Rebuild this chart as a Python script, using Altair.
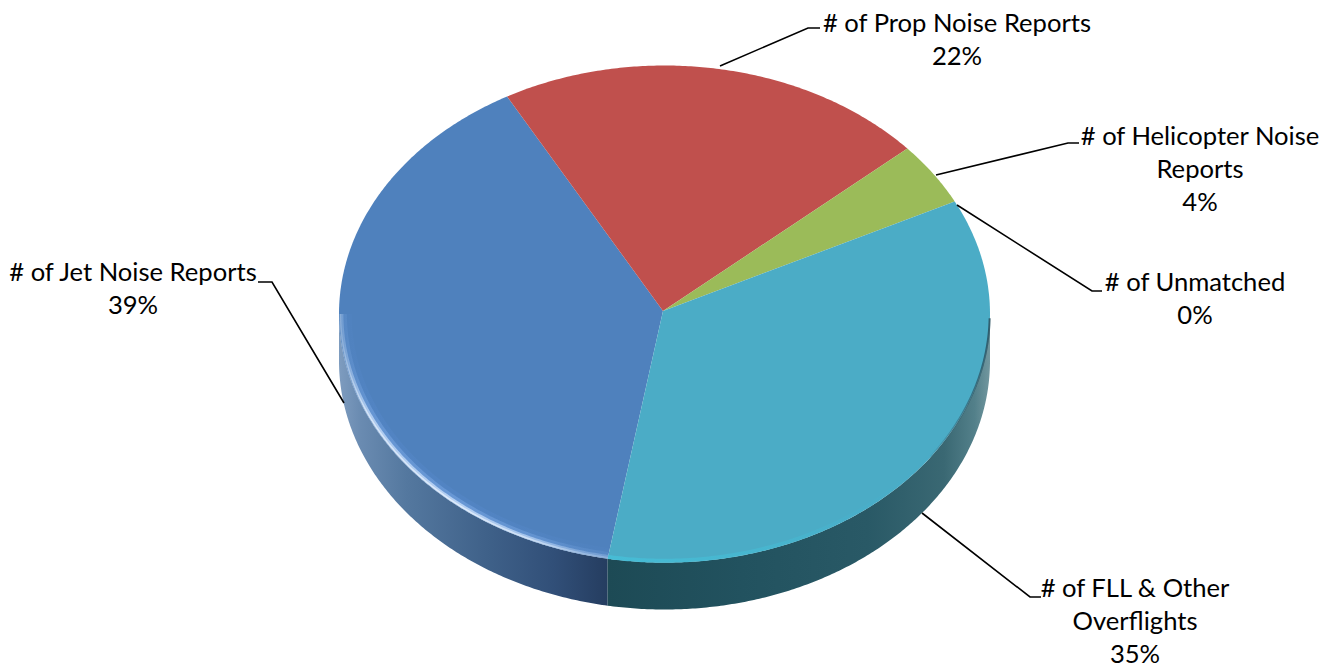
import numpy as np
import altair as alt

# Complaint shares by category, clockwise from the first slice
categories = ["# of Jet Noise Reports", "# of Prop Noise Reports", "# of Helicopter Noise Reports",
              "# of Unmatched", "# of FLL & Other Overflights"]
shares = [39, 22, 4, 0, 35]
fills = ["#4F81BD", "#C0504D", "#9BBB59", "#8064A2", "#4BACC6"]
label_lines = [["# of Jet Noise Reports"], ["# of Prop Noise Reports"],
               ["# of Helicopter Noise", "Reports"], ["# of Unmatched"],
               ["# of FLL & Other", "Overflights"]]

# Layout of the tilted disc
W, H = 1332, 667
CX, CY, RX, RY = 664.5, 314.0, 325.5, 248.5
APEX = (663.0, 311.0)
DEPTH = 47.0
START_DEG = 189.6
PERSPECTIVE = 0.05

label_x = [133, 957, 1200, 1195, 1135]
label_y = [273, 24, 137, 283, 589]
LINE_STEP = 33
leaders = [
    [(344, 403), (272, 282), (258, 282)],
    [(720, 66), (808, 28), (820, 28)],
    [(936, 175), (1068, 143), (1079, 143)],
    [(957, 205), (1092, 291), (1102, 291)],
    [(922, 513), (1030, 597), (1041, 597)],
]

FONT = "Lato"
FONT_SIZE = 25.6


def rim_point(deg, scale=1.0, dy=0.0):
    t = np.radians(deg)
    return [float(CX + scale * RX * np.sin(t)), float(CY + dy + scale * RY * -np.cos(t))]


def arc(a, b, scale=1.0, dy=0.0):
    n = max(2, int(abs(b - a) * 2) + 1)
    return [rim_point(d, scale, dy) for d in np.linspace(a, b, n)]


def feature(geom_type, coords, **props):
    return {"type": "Feature", "geometry": {"type": geom_type, "coordinates": coords}, "properties": props}


def gradient(stops, x1=0.0, x2=1.0):
    return alt.Gradient(gradient="linear", x1=x1, y1=0, x2=x2, y2=0,
                        stops=[alt.GradientStop(offset=o, color=c) for o, c in stops])


def foreshorten(deg):
    # The far side of the disc is narrowed slightly by the viewing perspective
    t = np.radians(deg)
    warped = np.degrees(np.arctan2(np.sin(t) * (1 - PERSPECTIVE * np.cos(t)), np.cos(t)))
    return float(warped % 360)


projection = alt.Projection(type="identity", scale=1, translate=[0, 0])

# Slice angle ranges follow directly from the shares
turns = START_DEG + np.concatenate([[0], np.cumsum(shares)]) * 3.6
edges = [foreshorten(d) for d in turns]
spans = []
for a, b in zip(edges[:-1], edges[1:]):
    spans.append((a, b if b >= a else b + 360))
JET_START, JET_END = spans[0]
FLL_START, FLL_END = spans[4]


def shape(features, **mark):
    return alt.Chart(alt.Data(values=features)).mark_geoshape(**mark).project(**projection.to_dict())


def side_wall(a, b):
    lo, hi = max(a, 90.0), min(b, 270.0)
    upper = arc(lo, hi)
    lower = arc(hi, lo, dy=DEPTH)
    return [feature("Polygon", [upper + lower + [upper[0]]])]


# Side wall of the disc, shaded by horizontal gradients
jet_wall = shape(side_wall(JET_START, JET_END), fill=gradient([
    (0.0, "#7e9cbf"), (0.08, "#6a8bb1"), (0.25, "#54789f"), (0.55, "#3f6189"),
    (0.8, "#314f78"), (1.0, "#253d60")]), strokeWidth=0)
fll_wall = shape(side_wall(FLL_START, FLL_END), fill=gradient([
    (0.0, "#1d4a55"), (0.35, "#22525f"), (0.68, "#295966"), (0.88, "#3a6873"),
    (0.96, "#53808a"), (1.0, "#72979f")]), strokeWidth=0)

# Top face
wedges = []
for (a, b), c, cat in zip(spans, fills, categories):
    ring = [list(APEX)] + arc(a, b) + [list(APEX)]
    wedges.append(feature("Polygon", [ring], fill=c, name=cat))
top = shape(wedges, strokeWidth=0).encode(fill=alt.Fill("properties.fill:N", scale=None))


# Soft specular bands just inside the front edge of the blue slice
def glow(color, peak):
    return gradient([(o, f"rgba({color},{v * peak:.3f})") for o, v in
                     [(0.0, 0.3), (0.03, 0.5), (0.1, 0.9), (0.45, 1.0), (0.7, 0.8), (0.9, 0.4), (1.0, 0.3)]])


highlight_layers = []
for scale, width, color, peak in [
    (0.975, 9, "90,140,210", 0.28),
    (0.985, 6, "130,175,235", 0.45),
    (0.992, 3.5, "200,222,250", 0.8),
    (0.996, 1.8, "240,247,255", 0.7),
]:
    highlight_layers.append(shape([feature("LineString", arc(JET_START, 270, scale))],
                                  filled=False, stroke=glow(color, peak), strokeWidth=width))

# Lighter band along the front edge of the aqua slice
aqua_edge = shape([feature("LineString", arc(120, FLL_END, 0.993))], filled=False,
                  stroke=gradient([(0.0, "rgba(70,190,215,0.9)"), (0.5, "rgba(70,185,210,0.7)"),
                                   (1.0, "rgba(70,170,200,0.1)")]), strokeWidth=4)
aqua_shade = shape([feature("LineString", arc(91, 125, 0.999))], filled=False,
                   stroke=gradient([(0.0, "rgba(40,80,95,0.1)"), (1.0, "rgba(40,80,95,0.85)")]),
                   strokeWidth=2)

# Leader lines and labels
lines = shape([feature("LineString", [list(p) for p in pts]) for pts in leaders],
              filled=False, stroke="black", strokeWidth=1.6)

rows = []
for lines_i, share, x, y in zip(label_lines, shares, label_x, label_y):
    for i, t in enumerate(lines_i + [f"{share}%"]):
        rows.append({"t": t, "x": x, "y": y + i * LINE_STEP})

text = alt.Chart(alt.Data(values=rows)).mark_text(
    font=FONT, fontSize=FONT_SIZE, color="black", align="center", baseline="middle"
).encode(
    x=alt.X("x:Q", scale=alt.Scale(domain=[0, W], range=[0, W]), axis=None),
    y=alt.Y("y:Q", scale=alt.Scale(domain=[0, H], range=[0, H]), axis=None),
    text="t:N",
)

chart = alt.layer(jet_wall, fll_wall, top, *highlight_layers, aqua_edge, aqua_shade, lines, text).properties(
    width=W, height=H, padding=0, autosize=alt.AutoSizeParams(type="none"), background="white"
).configure_view(stroke=None)

chart.save("out.html", embed_options={"renderer": "svg", "actions": False})
